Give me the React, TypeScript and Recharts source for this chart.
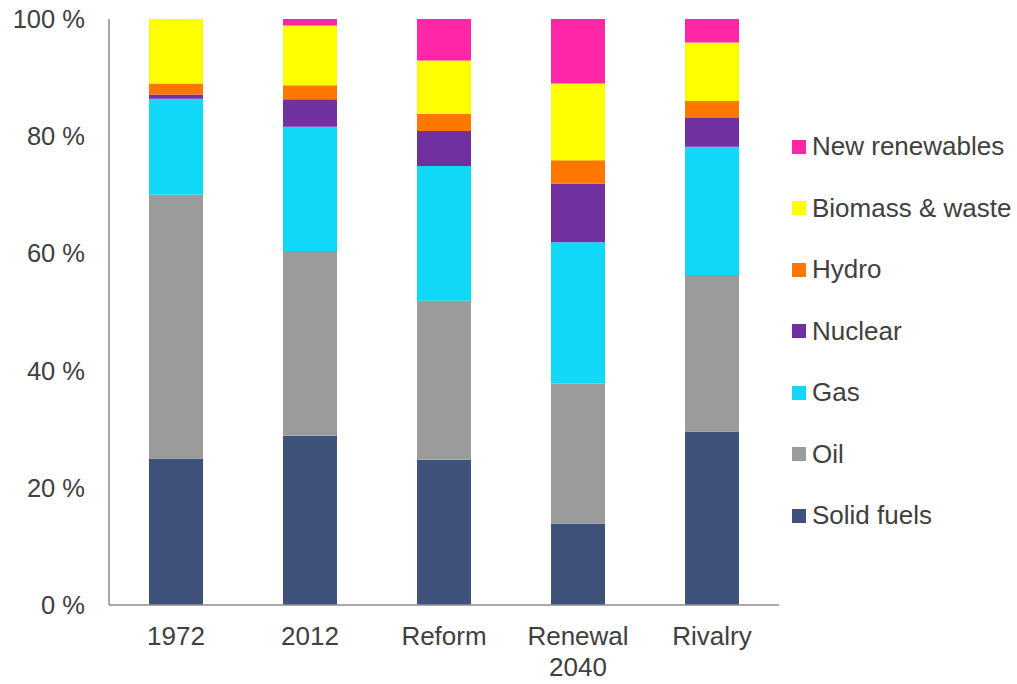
import React from 'react';
import { BarChart, Bar, XAxis, YAxis } from 'recharts';

const categories = ['1972', '2012', 'Reform', 'Renewal\n2040', 'Rivalry'];
const solidFuels = [25, 28.9, 24.8, 13.9, 29.6];
const oil = [45, 31.5, 27.1, 23.9, 26.7];
const gas = [16.4, 21.2, 23.0, 24.1, 21.9];
const nuclear = [0.7, 4.7, 6.0, 10.0, 4.9];
const hydro = [1.9, 2.4, 2.9, 4.0, 2.9];
const biomass = [11, 10.2, 9.1, 13.1, 10.0];
const newRenewables = [0, 1.1, 7.1, 11.0, 4.0];
const yTicks = [0, 20, 40, 60, 80, 100];

const series = [
    { key: 'Solid fuels', values: solidFuels, color: '#3F527B' },
    { key: 'Oil', values: oil, color: '#9B9B9B' },
    { key: 'Gas', values: gas, color: '#12D8F8' },
    { key: 'Nuclear', values: nuclear, color: '#7030A0' },
    { key: 'Hydro', values: hydro, color: '#FF7700' },
    { key: 'Biomass & waste', values: biomass, color: '#FFFF00' },
    { key: 'New renewables', values: newRenewables, color: '#FF27A5' },
];

const data = categories.map((name, i) => {
    const row: Record<string, string | number> = { name };
    series.forEach(s => { row[s.key] = s.values[i]; });
    return row;
});

const FONT = '"Liberation Sans", Arial, sans-serif';
const TEXT = '#404040';

function CategoryTick(props: any) {
    const { x, y, payload } = props;
    const lines = String(payload.value).split('\n');
    return (
        <text x={x} y={y} textAnchor="middle" fill={TEXT} fontSize={26} fontFamily={FONT}>
            {lines.map((l, i) => (
                <tspan key={i} x={x} dy={i === 0 ? '0.68em' : 31}>{l}</tspan>
            ))}
        </text>
    );
}

function SideLegend() {
    // legend runs top-down in reverse stacking order
    const items = [...series].reverse();
    return (
        <div style={{ position: 'absolute', left: 792, top: 116, fontFamily: FONT, fontSize: 26, color: TEXT }}>
            {items.map(s => (
                <div key={s.key} style={{ display: 'flex', alignItems: 'center', height: 61.5, whiteSpace: 'nowrap' }}>
                    <span style={{ width: 14, height: 14, background: s.color, marginRight: 6, display: 'inline-block' }} />
                    <span>{s.key}</span>
                </div>
            ))}
        </div>
    );
}

export default function App() {
    return (
        <div style={{ position: 'relative', width: 1017, height: 684, background: '#fff' }}>
            <style>{'body{margin:0}'}</style>
            <BarChart
                width={1017}
                height={684}
                data={data}
                margin={{ top: 19, right: 238, left: 0, bottom: 0 }}
                barSize={54}
            >
                <XAxis
                    dataKey="name"
                    interval={0}
                    height={79}
                    tickLine={false}
                    tickSize={0}
                    tickMargin={22}
                    stroke="#8c8c8c"
                    strokeWidth={1.5}
                    tick={<CategoryTick />}
                />
                <YAxis
                    width={109}
                    domain={[0, 100]}
                    ticks={yTicks}
                    interval={0}
                    tickLine={false}
                    tickSize={0}
                    tickMargin={24}
                    stroke="#8c8c8c"
                    strokeWidth={1.5}
                    tickFormatter={(v) => `${v} %`}
                    tick={{ fill: TEXT, fontSize: 25.5, fontFamily: FONT }}
                />
                {series.map(s => (
                    <Bar
                        key={s.key}
                        dataKey={s.key}
                        stackId="mix"
                        fill={s.color}
                        isAnimationActive={false}
                    />
                ))}
            </BarChart>
            <SideLegend />
        </div>
    );
}
